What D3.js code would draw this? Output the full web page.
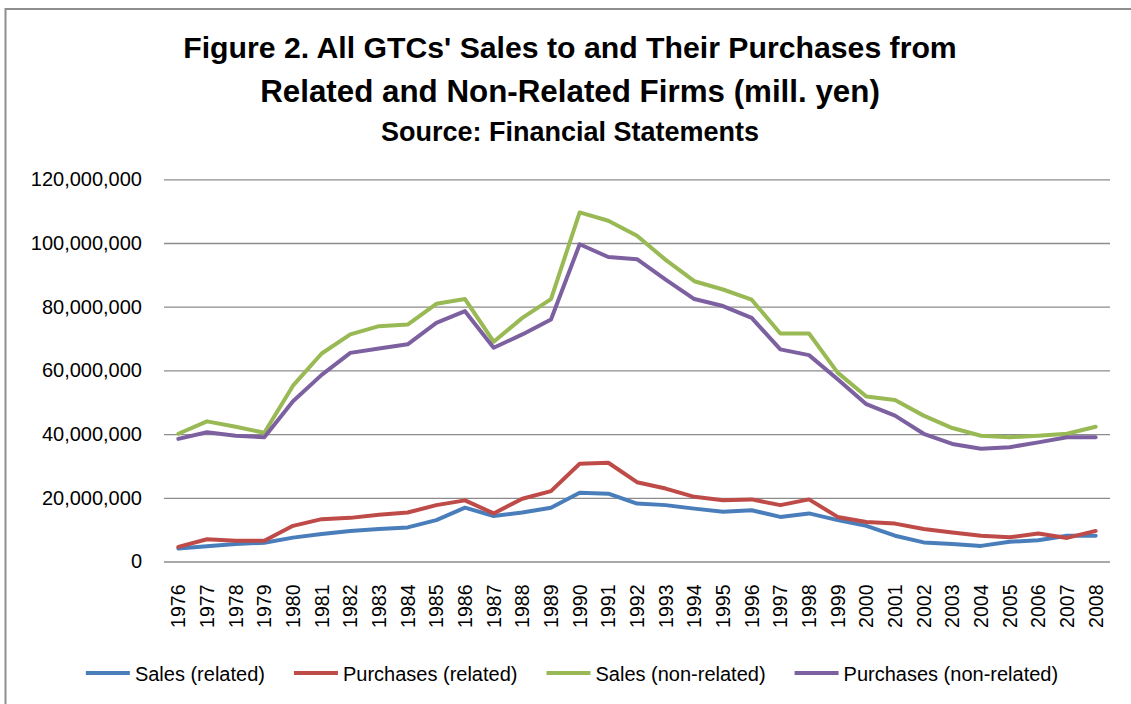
<!DOCTYPE html>
<html>
<head>
<meta charset="utf-8">
<script src="https://cdn.jsdelivr.net/npm/d3@7"></script>
<style>
  html, body { margin: 0; padding: 0; background: #fff; }
  svg { display: block; }
  text { font-family: "Liberation Sans", Arial, sans-serif; fill: #000; }
</style>
</head>
<body>
<svg id="chart" width="1131" height="704"></svg>
<script>
const years = ["1976","1977","1978","1979","1980","1981","1982","1983","1984","1985","1986","1987","1988","1989","1990","1991","1992","1993","1994","1995","1996","1997","1998","1999","2000","2001","2002","2003","2004","2005","2006","2007","2008"];

const salesRelated = [4.1,4.8,5.5,5.9,7.5,8.6,9.6,10.2,10.7,13.0,16.9,14.3,15.4,16.9,21.6,21.3,18.2,17.7,16.6,15.6,16.1,14.0,15.1,13.0,11.2,8.1,6.0,5.5,4.9,6.2,6.7,8.1,8.1].map(v => v * 1e6);
const purchasesRelated = [4.6,7.0,6.5,6.5,11.2,13.3,13.7,14.7,15.4,17.7,19.2,15.1,19.7,22.1,30.7,31.0,24.9,22.9,20.3,19.2,19.5,17.7,19.5,14.0,12.4,11.9,10.2,9.1,8.1,7.6,8.8,7.4,9.6].map(v => v * 1e6);
const salesNonRelated = [40.1,44.0,42.3,40.4,55.2,65.3,71.3,73.9,74.4,80.9,82.4,69.0,76.5,82.4,109.6,107.0,102.3,94.7,88.0,85.4,82.2,71.6,71.6,59.3,51.8,50.7,45.8,41.9,39.5,39.0,39.5,40.1,42.3].map(v => v * 1e6);
const purchasesNonRelated = [38.5,40.6,39.5,39.0,50.3,58.6,65.5,66.9,68.2,74.9,78.6,67.1,71.3,76.0,99.6,95.6,94.9,88.5,82.4,80.2,76.5,66.6,64.8,57.2,49.4,45.8,40.1,36.9,35.4,35.9,37.4,39.0,39.0].map(v => v * 1e6);

const seriesNames = ["Sales (related)", "Purchases (related)", "Sales (non-related)", "Purchases (non-related)"];
const seriesColors = ["#4a7ebb", "#be4b48", "#98b954", "#7d60a0"];
const yTicks = [0, 20e6, 40e6, 60e6, 80e6, 100e6, 120e6];
const titleLines = ["Figure 2. All GTCs' Sales to and Their Purchases from", "Related and Non-Related Firms (mill. yen)", "Source: Financial Statements"];

const seriesData = [salesRelated, purchasesRelated, salesNonRelated, purchasesNonRelated];

const svg = d3.select("#chart");

// outer chart border
svg.append("rect")
  .attr("x", 5.5).attr("y", 9).attr("width", 1300).attr("height", 900)
  .attr("fill", "none").attr("stroke", "#8e8e8e").attr("stroke-width", 2);

// Title (fit each line to its measured width in the reference)
const titleSpecs = [
  { y: 58, w: 774, size: 27 },
  { y: 102, w: 620, size: 27 },
  { y: 141, w: 378, size: 22 }
];
titleLines.forEach((t, i) => {
  const s = titleSpecs[i];
  const el = svg.append("text")
    .attr("x", 570).attr("y", s.y)
    .attr("text-anchor", "middle")
    .attr("font-weight", "bold")
    .attr("font-size", s.size)
    .text(t);
  const w = el.node().getComputedTextLength();
  el.attr("font-size", s.size * s.w / w);
});

const plotLeft = 164, plotRight = 1110, plotTop = 179.3, plotBottom = 561.5;

const x = d3.scaleBand().domain(years).range([plotLeft, plotRight]).padding(0);
const y = d3.scaleLinear().domain([0, 120e6]).range([plotBottom, plotTop]);

// gridlines + y labels
const yAxis = d3.axisLeft(y).tickValues(yTicks).tickSize(-(plotRight - plotLeft)).tickPadding(22)
  .tickFormat(d => d3.format(",")(d));
const gy = svg.append("g").attr("transform", `translate(${plotLeft},0)`).call(yAxis);
gy.select(".domain").remove();
gy.selectAll(".tick line").attr("stroke", "#8c8c8c").attr("stroke-width", 1.3);
gy.selectAll(".tick text")
  .attr("font-size", 20)
  .attr("font-family", "Liberation Sans, Arial, sans-serif")
  .attr("fill", "#000");

// x axis labels
const xAxis = d3.axisBottom(x).tickSize(0).tickPadding(0);
const gx = svg.append("g").attr("transform", `translate(0,${plotBottom})`).call(xAxis);
gx.select(".domain").remove();
gx.selectAll(".tick text")
  .attr("font-size", 19.5)
  .attr("font-family", "Liberation Sans, Arial, sans-serif")
  .attr("fill", "#000")
  .attr("text-anchor", "end")
  .attr("dy", null)
  .attr("y", 0)
  .attr("transform", "translate(7,23) rotate(-90)");

// lines
const line = d3.line()
  .x((d, i) => x(years[i]) + x.bandwidth() / 2)
  .y(d => y(d));

seriesData.forEach((data, i) => {
  svg.append("path")
    .datum(data)
    .attr("fill", "none")
    .attr("stroke", seriesColors[i])
    .attr("stroke-width", 4)
    .attr("stroke-linejoin", "round")
    .attr("stroke-linecap", "round")
    .attr("d", line);
});

// legend
const legend = svg.append("g");
const items = seriesNames.map((name, i) => {
  const g = legend.append("g");
  g.append("line").attr("x1", 0).attr("x2", 44).attr("y1", 673).attr("y2", 673)
    .attr("stroke", seriesColors[i]).attr("stroke-width", 4);
  const t = g.append("text").attr("x", 49).attr("y", 680.5)
    .attr("font-size", 20).text(name);
  return { g, w: 49 + t.node().getComputedTextLength() };
});
const gap = 29;
const total = d3.sum(items, d => d.w) + gap * (items.length - 1);
let cx = 572 - total / 2;
items.forEach(it => {
  it.g.attr("transform", `translate(${cx},0)`);
  cx += it.w + gap;
});
</script>
</body>
</html>
